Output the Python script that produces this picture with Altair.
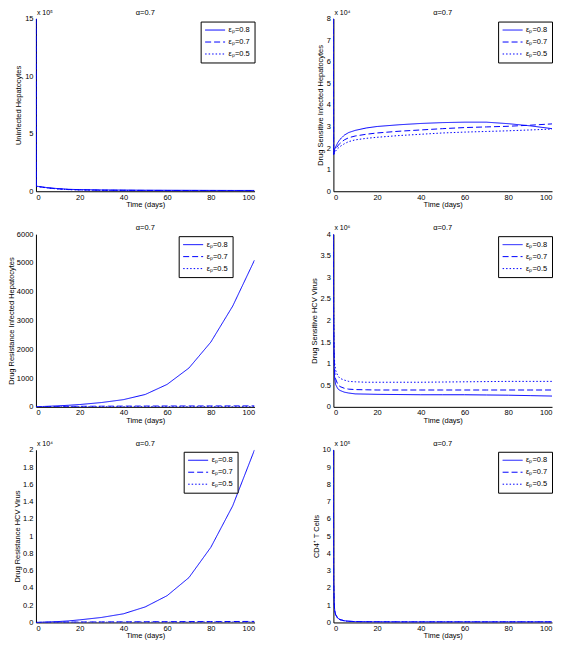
import altair as alt
import pandas as pd

FONT = "Liberation Sans"

TIME = [0, 0.1, 0.3, 0.6, 1, 2, 3, 5, 7, 10, 15, 20, 30, 40, 50, 60, 70, 80, 90, 100]
SERIES = ["εₚ=0.8", "εₚ=0.7", "εₚ=0.5"]
DASHES = [[1, 0], [6, 3], [1.5, 2]]
X_TICKS = [0, 20, 40, 60, 80, 100]
PANEL_TITLE = "α=0.7"
X_TITLE = "Time (days)"

# Panel 1: Uninfected Hepatocytes (x 10^5)
UH_LABEL = "Uninfected Hepatocytes"
UH_EXP = "x 10⁵"
UH_UNIT = 1e5
UH_TICKS = [0, 5, 10, 15]
UH_08 = [15, 0.45, 0.44, 0.43, 0.42, 0.40, 0.37, 0.32, 0.28, 0.23, 0.17, 0.14, 0.11, 0.10, 0.09, 0.085, 0.08, 0.075, 0.07, 0.07]
UH_07 = [15, 0.44, 0.43, 0.42, 0.41, 0.38, 0.35, 0.30, 0.26, 0.21, 0.15, 0.12, 0.09, 0.08, 0.07, 0.065, 0.06, 0.055, 0.05, 0.05]
UH_05 = [15, 0.43, 0.42, 0.41, 0.40, 0.37, 0.34, 0.29, 0.25, 0.20, 0.14, 0.11, 0.08, 0.07, 0.06, 0.055, 0.05, 0.045, 0.04, 0.04]

# Panel 2: Drug Sensitive Infected Hepatocytes (x 10^4)
SI_LABEL = "Drug Sensitive Infected Hepatocytes"
SI_EXP = "x 10⁴"
SI_UNIT = 1e4
SI_TICKS = [0, 1, 2, 3, 4, 5, 6, 7, 8]
SI_08 = [8, 1.7, 1.85, 1.95, 2.05, 2.25, 2.4, 2.6, 2.72, 2.82, 2.93, 3.0, 3.08, 3.14, 3.18, 3.2, 3.2, 3.13, 3.03, 2.9]
SI_07 = [8, 1.7, 1.8, 1.88, 1.95, 2.1, 2.22, 2.38, 2.48, 2.56, 2.64, 2.7, 2.78, 2.84, 2.9, 2.95, 2.98, 3.01, 3.06, 3.12]
SI_05 = [8, 1.7, 1.75, 1.8, 1.86, 1.98, 2.07, 2.2, 2.3, 2.38, 2.45, 2.5, 2.58, 2.64, 2.7, 2.74, 2.77, 2.8, 2.84, 2.88]

# Panel 3: Drug Resistance Infected Hepatocytes
RI_LABEL = "Drug Resistance Infected Hepatocytes"
RI_EXP = ""
RI_UNIT = 1
RI_TICKS = [0, 1000, 2000, 3000, 4000, 5000, 6000]
RI_08 = [0, 1, 2, 3, 5, 8, 12, 18, 25, 35, 55, 80, 150, 250, 430, 780, 1350, 2250, 3500, 5100]
RI_07 = [0, 0.5, 1, 2, 3, 5, 6, 8, 10, 12, 15, 18, 22, 25, 27, 29, 30, 31, 32, 33]
RI_05 = [0, 0.3, 0.6, 1, 1.5, 2, 3, 4, 5, 6, 7, 8, 9, 10, 10, 11, 11, 11, 12, 12]

# Panel 4: Drug Sensitive HCV Virus (x 10^6)
SV_LABEL = "Drug Sensitive HCV Virus"
SV_EXP = "x 10⁶"
SV_UNIT = 1e6
SV_TICKS = [0, 0.5, 1, 1.5, 2, 2.5, 3, 3.5, 4]
SV_08 = [4, 1.6, 0.9, 0.65, 0.52, 0.42, 0.38, 0.34, 0.32, 0.30, 0.295, 0.29, 0.285, 0.28, 0.28, 0.28, 0.275, 0.27, 0.26, 0.25]
SV_07 = [4, 2.0, 1.1, 0.8, 0.65, 0.52, 0.47, 0.43, 0.41, 0.40, 0.395, 0.39, 0.39, 0.39, 0.39, 0.39, 0.39, 0.39, 0.39, 0.39]
SV_05 = [4, 2.3, 1.3, 1.0, 0.85, 0.72, 0.66, 0.62, 0.59, 0.58, 0.57, 0.57, 0.57, 0.57, 0.575, 0.58, 0.585, 0.59, 0.59, 0.59]

# Panel 5: Drug Resistance HCV Virus (x 10^4)
RV_LABEL = "Drug Resistance HCV Virus"
RV_EXP = "x 10⁴"
RV_UNIT = 1e4
RV_TICKS = [0, 0.2, 0.4, 0.6, 0.8, 1, 1.2, 1.4, 1.6, 1.8, 2]
RV_08 = [0, 0, 0, 0.001, 0.001, 0.002, 0.003, 0.005, 0.007, 0.01, 0.018, 0.03, 0.058, 0.10, 0.18, 0.31, 0.52, 0.87, 1.35, 2.0]
RV_07 = [0, 0, 0, 0, 0, 0.001, 0.001, 0.002, 0.002, 0.003, 0.004, 0.005, 0.006, 0.007, 0.008, 0.009, 0.010, 0.010, 0.011, 0.012]
RV_05 = [0, 0, 0, 0, 0, 0, 0.001, 0.001, 0.001, 0.001, 0.002, 0.002, 0.002, 0.003, 0.003, 0.003, 0.003, 0.004, 0.004, 0.004]

# Panel 6: CD4+ T Cells (x 10^5)
TC_LABEL = "CD4⁺ T Cells"
TC_EXP = "x 10⁵"
TC_UNIT = 1e5
TC_TICKS = [0, 1, 2, 3, 4, 5, 6, 7, 8, 9, 10]
TC_08 = [10, 2.5, 1.2, 0.7, 0.47, 0.25, 0.17, 0.10, 0.07, 0.05, 0.04, 0.035, 0.03, 0.03, 0.03, 0.03, 0.03, 0.03, 0.03, 0.03]
TC_07 = [10, 2.4, 1.15, 0.68, 0.45, 0.24, 0.16, 0.10, 0.07, 0.05, 0.04, 0.035, 0.03, 0.03, 0.03, 0.03, 0.03, 0.03, 0.03, 0.03]
TC_05 = [10, 2.3, 1.1, 0.65, 0.44, 0.23, 0.16, 0.09, 0.06, 0.045, 0.035, 0.03, 0.03, 0.03, 0.03, 0.03, 0.03, 0.03, 0.03, 0.03]

W = 219
H = 173

PANELS = [
    dict(label=UH_LABEL, exp=UH_EXP, unit=UH_UNIT, ticks=UH_TICKS, vals=[UH_08, UH_07, UH_05], tx=-13, lx=W - 54, ly=3),
    dict(label=SI_LABEL, exp=SI_EXP, unit=SI_UNIT, ticks=SI_TICKS, vals=[SI_08, SI_07, SI_05], tx=-9, lx=W - 54, ly=3),
    dict(label=RI_LABEL, exp=RI_EXP, unit=RI_UNIT, ticks=RI_TICKS, vals=[RI_08, RI_07, RI_05], tx=-20, lx=W - 76, ly=2),
    dict(label=SV_LABEL, exp=SV_EXP, unit=SV_UNIT, ticks=SV_TICKS, vals=[SV_08, SV_07, SV_05], tx=-15, lx=W - 54, ly=2),
    dict(label=RV_LABEL, exp=RV_EXP, unit=RV_UNIT, ticks=RV_TICKS, vals=[RV_08, RV_07, RV_05], tx=-14, lx=W - 71, ly=2),
    dict(label=TC_LABEL, exp=TC_EXP, unit=TC_UNIT, ticks=TC_TICKS, vals=[TC_08, TC_07, TC_05], tx=-13, lx=W - 54, ly=2),
]


def make_panel(p):
    rows = []
    for name, vals in zip(SERIES, p["vals"]):
        for t, v in zip(TIME, vals):
            rows.append({"t": t, "v": v * p["unit"], "s": name})
    df = pd.DataFrame(rows)
    unit = p["unit"]
    ticks = [v * unit for v in p["ticks"]]
    ymax = ticks[-1]
    lines = alt.Chart(df).mark_line(color="blue", strokeWidth=1, clip=True).encode(
        x=alt.X("t:Q", scale=alt.Scale(domain=[0, 100], nice=False, zero=False),
                axis=alt.Axis(values=X_TICKS, title=X_TITLE, titlePadding=0, grid=False,
                              ticks=False, labelPadding=2)),
        y=alt.Y("v:Q", scale=alt.Scale(domain=[0, ymax], nice=False),
                axis=alt.Axis(values=ticks, title=p["label"], titleX=p["tx"], grid=False,
                              ticks=False,
                              labelExpr=f"format(datum.value / {unit}, '~g')")),
        strokeDash=alt.StrokeDash(
            "s:N",
            scale=alt.Scale(domain=SERIES, range=DASHES),
            legend=alt.Legend(title=None, orient="none", legendX=p["lx"], legendY=p["ly"],
                              strokeColor="black", fillColor="white", padding=4,
                              symbolType="stroke", symbolStrokeColor="blue",
                              symbolStrokeWidth=1, symbolSize=400, clipHeight=9,
                              rowPadding=3, labelOffset=3, labelFontSize=7.5,
                              labelFont=FONT, labelColor="black"),
        ),
        order=alt.Order("t:Q"),
    )
    title = alt.Chart(pd.DataFrame({"txt": [PANEL_TITLE]})).mark_text(
        align="center", baseline="alphabetic", fontSize=7.5, font=FONT, color="black"
    ).encode(text="txt:N", x=alt.value(W / 2), y=alt.value(-4))
    layers = [lines, title]
    if p["exp"]:
        ex = alt.Chart(pd.DataFrame({"txt": [p["exp"]]})).mark_text(
            align="left", baseline="alphabetic", fontSize=7, font=FONT, color="black"
        ).encode(text="txt:N", x=alt.value(1), y=alt.value(-4))
        layers.append(ex)
    return alt.layer(*layers).properties(width=W, height=H)


charts = [make_panel(p) for p in PANELS]

chart = alt.concat(
    *charts, columns=2, spacing=alt.RowColnumber(row=43, column=79), bounds="flush"
).resolve_scale(strokeDash="independent").resolve_legend(
    strokeDash="independent"
).properties(
    padding={"left": 0, "top": 0, "right": 0, "bottom": 1}, background="white"
).configure_axis(
    grid=False, ticks=False, domainColor="black", domainWidth=1,
    labelFont=FONT, labelFontSize=7.5, labelColor="black", labelPadding=3,
    titleFont=FONT, titleFontSize=7.5, titleFontWeight="normal", titleColor="black",
).configure_view(stroke=None)

chart.save("out.html", embed_options={"renderer": "svg", "actions": False})
